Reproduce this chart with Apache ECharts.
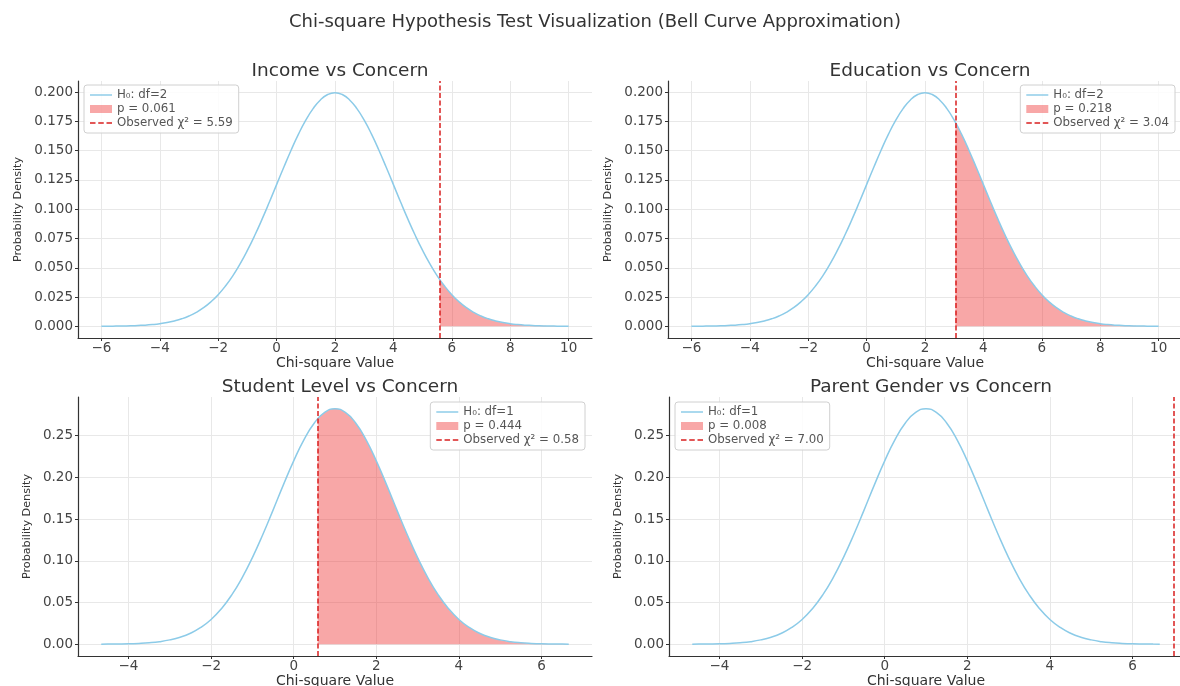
<!DOCTYPE html>
<html><head><meta charset="utf-8">
<script src="https://cdn.jsdelivr.net/npm/echarts@6/dist/echarts.min.js"></script>
<style>html,body{margin:0;padding:0;background:#fff}#c{width:1180px;height:686px}</style>
</head><body><div id="c"></div>
<script>
// ---------------- data ----------------
const mainTitle = 'Chi-square Hypothesis Test Visualization (Bell Curve Approximation)';
const panelTitles = ['Income vs Concern', 'Education vs Concern', 'Student Level vs Concern', 'Parent Gender vs Concern'];
const degreesOfFreedom = [2, 2, 1, 1];
const pValues = ['0.061', '0.218', '0.444', '0.008'];
const observedChi2 = [5.59, 3.04, 0.58, 7.00];
const observedDensity = [0.0398, 0.1742, 0.2699, null]; // curve height at the observed value

// bell curve, df = 2
const xDf2 = [-6, -5.75, -5.5, -5.25, -5, -4.75, -4.5, -4.25, -4, -3.75, -3.5, -3.25, -3, -2.75, -2.5, -2.25, -2, -1.75, -1.5, -1.25, -1, -0.75, -0.5, -0.25,
  0, 0.25, 0.5, 0.75, 1, 1.25, 1.5, 1.75, 2, 2.25, 2.5, 2.75, 3, 3.25, 3.5, 3.75, 4, 4.25, 4.5, 4.75, 5, 5.25, 5.5, 5.75,
  6, 6.25, 6.5, 6.75, 7, 7.25, 7.5, 7.75, 8, 8.25, 8.5, 8.75, 9, 9.25, 9.5, 9.75, 10];
const yDf2 = [0.0001, 0.0001, 0.0002, 0.0003, 0.0004, 0.0007, 0.0010, 0.0015, 0.0022, 0.0032, 0.0046, 0.0064, 0.0088, 0.0119, 0.0159, 0.0209,
  0.0270, 0.0344, 0.0431, 0.0533, 0.0648, 0.0775, 0.0913, 0.1059, 0.1210, 0.1360, 0.1506, 0.1641, 0.1760, 0.1859, 0.1933, 0.1979,
  0.1995,
  0.1979, 0.1933, 0.1859, 0.1760, 0.1641, 0.1506, 0.1360, 0.1210, 0.1059, 0.0913, 0.0775, 0.0648, 0.0533, 0.0431, 0.0344, 0.0270,
  0.0209, 0.0159, 0.0119, 0.0088, 0.0064, 0.0046, 0.0032, 0.0022, 0.0015, 0.0010, 0.0007, 0.0004, 0.0003, 0.0002, 0.0001, 0.0001];
// bell curve, df = 1
const xDf1 = [-4.66, -4.5, -4.25, -4, -3.75, -3.5, -3.25, -3, -2.75, -2.5, -2.25, -2, -1.75, -1.5, -1.25, -1, -0.75, -0.5, -0.25,
  0, 0.25, 0.5, 0.75, 1, 1.25, 1.5, 1.75, 2, 2.25, 2.5, 2.75, 3, 3.25, 3.5, 3.75, 4, 4.25, 4.5, 4.75, 5, 5.25, 5.5, 5.75, 6, 6.25, 6.5, 6.66];
const yDf1 = [0.0001, 0.0002, 0.0003, 0.0005, 0.0010, 0.0018, 0.0031, 0.0052, 0.0084, 0.0132, 0.0201, 0.0297, 0.0426, 0.0591, 0.0796, 0.1038,
  0.1312, 0.1607, 0.1909, 0.2197, 0.2451, 0.2650, 0.2777,
  0.2821,
  0.2777, 0.2650, 0.2451, 0.2197, 0.1909, 0.1607, 0.1312, 0.1038, 0.0796, 0.0591, 0.0426, 0.0297, 0.0201, 0.0132, 0.0084, 0.0052,
  0.0031, 0.0018, 0.0010, 0.0005, 0.0003, 0.0002, 0.0001];

// tick labels
const xTicksDf2 = [-6, -4, -2, 0, 2, 4, 6, 8, 10];
const xTicksDf1 = [-4, -2, 0, 2, 4, 6];
const yTicksDf2 = [0, 0.025, 0.05, 0.075, 0.1, 0.125, 0.15, 0.175, 0.2];
const yTicksDf1 = [0, 0.05, 0.1, 0.15, 0.2, 0.25];

// ---------------- layout / style ----------------
const FONT = 'DejaVu Sans';
const CURVE = '#8ccbe8';
const SHADE = 'rgba(240,60,60,0.45)';
const OBS = '#d91f1f';
const grids = [
  {left: 78, top: 81, width: 514, height: 257},
  {left: 668, top: 81, width: 514, height: 257},
  {left: 78, top: 397, width: 514, height: 259},
  {left: 669, top: 397, width: 514, height: 259}
];
const xLim = [[-6.8, 10.8], [-6.8, 10.8], [-5.223, 7.223], [-5.223, 7.223]];
const yLim = [[-0.00997, 0.20945], [-0.00997, 0.20945], [-0.0141, 0.2962], [-0.0141, 0.2962]];
const legendPos = [
  {left: 84, top: 85}, {right: 5, top: 85}, {right: 595, top: 402}, {left: 675, top: 402}
];
const LINE_ICON = 'path://M0,0H24V1.6H0Z';
const DASH_ICON = 'path://M0,0H6V1.6H0Z M9,0H15V1.6H9Z M18,0H24V1.6H18Z';

const fmtNum = (v, d) => (v < 0 ? '\u2212' + Math.abs(v).toFixed(d) : v.toFixed(d));

const option = {
  animation: false,
  backgroundColor: '#fff',
  title: [{
    text: mainTitle, left: 590, top: 8, textAlign: 'center',
    textStyle: {fontFamily: FONT, fontSize: 18, fontWeight: 'normal', color: '#333'}
  }],
  grid: [], xAxis: [], yAxis: [], series: [], legend: []
};

for (let i = 0; i < 4; i++) {
  const df = degreesOfFreedom[i];
  const xs = df === 2 ? xDf2 : xDf1;
  const ys = df === 2 ? yDf2 : yDf1;
  const curve = xs.map((x, k) => [x, ys[k]]);
  const tail = curve.filter(p => p[0] > observedChi2[i]);
  const shade = tail.length ? [[observedChi2[i], observedDensity[i]]].concat(tail) : [];
  const h0Name = 'H\u2080: df=' + df;
  const pName = 'p = ' + pValues[i];
  const obsName = 'Observed \u03c7\u00b2 = ' + observedChi2[i].toFixed(2);
  const g = grids[i];

  option.grid.push(Object.assign({outerBoundsMode: 'none', containLabel: false}, g));
  option.title.push({
    text: panelTitles[i], left: g.left + g.width / 2, top: g.top - 24, textAlign: 'center',
    textStyle: {fontFamily: FONT, fontSize: 18.5, fontWeight: 'normal', color: '#333'}
  });
  const xt = df === 2 ? xTicksDf2 : xTicksDf1;
  const yt = df === 2 ? yTicksDf2 : yTicksDf1;
  const yDec = df === 2 ? 3 : 2;
  option.xAxis.push({
    type: 'value', gridIndex: i, min: xLim[i][0], max: xLim[i][1],
    name: 'Chi-square Value', nameLocation: 'middle', nameGap: 18,
    nameTextStyle: {fontFamily: FONT, fontSize: 14, color: '#333'},
    axisLine: {onZero: false, lineStyle: {color: '#333', width: 1.2}},
    axisTick: {show: true, length: 3, customValues: xt, lineStyle: {color: '#333'}},
    axisLabel: {customValues: xt, margin: 3, fontFamily: FONT, fontSize: 13.5, color: '#444',
      formatter: v => fmtNum(v, 0)},
    splitLine: {show: true, lineStyle: {color: '#e8e8e8', width: 1}}
  });
  option.yAxis.push({
    type: 'value', gridIndex: i, min: yLim[i][0], max: yLim[i][1],
    name: 'Probability Density', nameLocation: 'middle', nameGap: df === 2 ? 54 : 45,
    nameTextStyle: {fontFamily: FONT, fontSize: 11.2, color: '#333'},
    axisLine: {show: true, onZero: false, lineStyle: {color: '#333', width: 1.2}},
    axisTick: {show: true, length: 3, customValues: yt, lineStyle: {color: '#333'}},
    axisLabel: {customValues: yt, margin: 5, fontFamily: FONT, fontSize: 13.5, color: '#444',
      formatter: v => fmtNum(v, yDec)},
    splitLine: {show: true, lineStyle: {color: '#e8e8e8', width: 1}}
  });
  option.series.push({
    name: pName, type: 'line', xAxisIndex: i, yAxisIndex: i, data: shade,
    smooth: true, symbol: 'none', showSymbol: false,
    lineStyle: {width: 0, color: SHADE}, itemStyle: {color: SHADE},
    areaStyle: {color: SHADE, opacity: 1}, z: 2
  });
  option.series.push({
    name: h0Name, type: 'line', xAxisIndex: i, yAxisIndex: i, data: curve,
    smooth: true, symbol: 'none', showSymbol: false,
    lineStyle: {width: 1.5, color: CURVE}, itemStyle: {color: CURVE}, z: 3
  });
  option.series.push({
    name: obsName, type: 'line', xAxisIndex: i, yAxisIndex: i, data: [],
    symbol: 'none', lineStyle: {color: OBS, type: [5, 2.5], width: 1.5}, itemStyle: {color: OBS}, z: 4,
    markLine: {
      silent: true, symbol: 'none', label: {show: false},
      lineStyle: {color: OBS, type: [5, 2.5], width: 1.5},
      data: [{xAxis: observedChi2[i]}]
    }
  });
  option.legend.push(Object.assign({
    orient: 'vertical', itemWidth: 22, itemHeight: 8, itemGap: 2,
    padding: [4, 6, 4, 6], borderColor: '#d0d0d0', borderWidth: 1, borderRadius: 3,
    backgroundColor: 'rgba(255,255,255,0.85)', selectedMode: false,
    textStyle: {fontFamily: FONT, fontSize: 11.8, color: '#555'},
    data: [
      {name: h0Name, icon: LINE_ICON, itemStyle: {color: CURVE, borderWidth: 0}},
      {name: pName, icon: 'rect', itemStyle: {color: SHADE, borderWidth: 0}},
      {name: obsName, icon: DASH_ICON, itemStyle: {color: OBS, borderWidth: 0}}
    ]
  }, legendPos[i]));
}

const chart = echarts.init(document.getElementById('c'), null, {renderer: 'canvas'});
chart.setOption(option);
</script>
</body></html>
